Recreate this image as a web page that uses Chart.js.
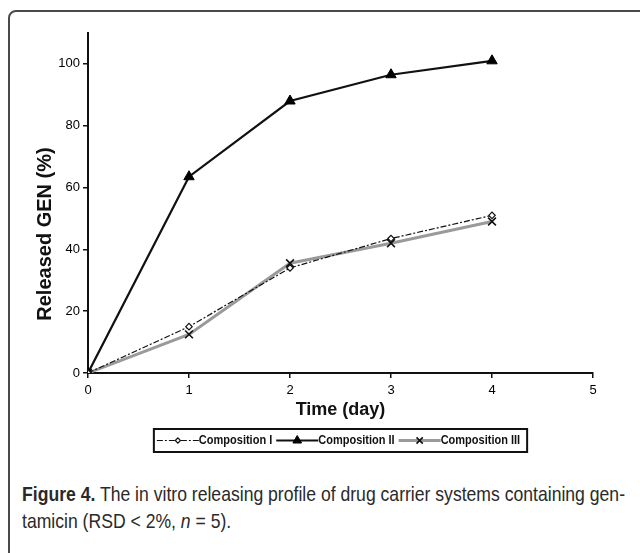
<!DOCTYPE html>
<html>
<head>
<meta charset="utf-8">
<script src="https://cdn.jsdelivr.net/npm/chart.js@4.4.0/dist/chart.umd.min.js"></script>
<style>
  html, body { margin: 0; padding: 0; background: #fff; }
  body { width: 640px; height: 553px; position: relative; overflow: hidden; }
  .frame {
    position: absolute; left: 8px; top: 10px; width: 700px; height: 600px;
    border: 2px solid #4a4a4a; border-radius: 8px; box-sizing: border-box;
  }
  #wrap { position: absolute; left: 0; top: 0; width: 640px; height: 470px; }
  .caption {
    position: absolute; left: 22px; top: 480px;
    font-family: "Liberation Sans", Arial, sans-serif;
    font-size: 21px; line-height: 27px; color: #2a2a2a; white-space: nowrap;
    transform-origin: 0 0;
  }
  .caption b { font-weight: bold; }
</style>
</head>
<body>
<div class="frame"></div>
<div id="wrap"><canvas id="chart"></canvas></div>
<div class="caption" id="cap"><span id="capLine"><b>Figure 4.</b> The in vitro releasing profile of drug carrier systems containing gen-</span><br>tamicin (RSD &lt; 2%, <i>n</i> = 5).</div>
<script>
// days sampled
const days = [0, 1, 2, 3, 4];
// released gentamicin, %
const compositionI = [0, 15, 34, 43.5, 51];
const compositionII = [0, 63.5, 88, 96.5, 101];
const compositionIII = [0, 12.5, 35.5, 42, 49];
const yTicks = [0, 20, 40, 60, 80, 100];
const xTicks = [0, 1, 2, 3, 4, 5];

// squeeze the caption to the condensed width of the original
const capLine = document.getElementById("capLine");
const capW = capLine.getBoundingClientRect().width;
document.getElementById("cap").style.transform = "scaleX(" + (603 / capW) + ")";

const pts = (ys) => days.map((d, i) => ({ x: d, y: ys[i] }));

const series = [
  { label: "Composition I", data: pts(compositionI), borderColor: "#111", borderWidth: 1.2,
    borderDash: [6, 2, 2, 2], pointStyle: "rectRot", pointRadius: 3.2,
    pointBackgroundColor: "#fff", pointBorderColor: "#111", pointBorderWidth: 1.2 },
  { label: "Composition II", data: pts(compositionII), borderColor: "#111", borderWidth: 2.2,
    borderDash: [], pointStyle: "triangle", pointRadius: 6,
    pointBackgroundColor: "#000", pointBorderColor: "#000", pointBorderWidth: 1 },
  { label: "Composition III", data: pts(compositionIII), borderColor: "#9a9a9a", borderWidth: 3,
    borderDash: [], pointStyle: "crossRot", pointRadius: 5.5,
    pointBackgroundColor: "#111", pointBorderColor: "#111", pointBorderWidth: 1.6 },
];

const squeeze = 0.86;

const boxLegend = {
  id: "boxLegend",
  afterDraw(chart) {
    const ctx = chart.ctx;
    const area = chart.chartArea;
    ctx.save();
    ctx.font = "bold 12.8px 'Liberation Sans', Arial, sans-serif";
    const lineLen = 42, gap = 4, padX = 3;
    const items = chart.data.datasets.map(ds => ({ ds, w: ctx.measureText(ds.label).width * squeeze }));
    let total = padX * 2;
    items.forEach(it => { total += lineLen + it.w + gap; });
    const cx = (area.left + area.right) / 2;
    const top = area.bottom + 56, h = 23;
    let x = cx - total / 2;
    ctx.lineWidth = 2;
    ctx.strokeStyle = "#111";
    ctx.strokeRect(x, top, total, h);
    const cy = top + h / 2;
    x += padX;
    items.forEach(({ ds, w }) => {
      ctx.save();
      ctx.strokeStyle = ds.borderColor;
      ctx.lineWidth = ds.borderWidth;
      ctx.setLineDash(ds.borderDash || []);
      ctx.beginPath();
      ctx.moveTo(x, cy);
      ctx.lineTo(x + lineLen, cy);
      ctx.stroke();
      ctx.setLineDash([]);
      ctx.fillStyle = ds.pointBackgroundColor;
      ctx.strokeStyle = ds.pointBorderColor;
      ctx.lineWidth = ds.pointBorderWidth;
      Chart.helpers.drawPoint(ctx, {
        pointStyle: ds.pointStyle, radius: ds.pointStyle === "triangle" ? 5 : ds.pointRadius * 0.8,
        rotation: 0, borderWidth: ds.pointBorderWidth
      }, x + lineLen / 2, cy);
      ctx.restore();
      ctx.save();
      ctx.fillStyle = "#111";
      ctx.textBaseline = "middle";
      ctx.textAlign = "left";
      ctx.translate(x + lineLen, cy);
      ctx.scale(squeeze, 1);
      ctx.fillText(ds.label, 0, 0);
      ctx.restore();
      x += lineLen + w + gap;
    });
    ctx.restore();
  }
};

// y title sits a little below the middle of the axis in the original
const yTitle = {
  id: "yTitle",
  afterDraw(chart) {
    const ctx = chart.ctx;
    const area = chart.chartArea;
    ctx.save();
    ctx.font = "bold 20px 'Liberation Sans', Arial, sans-serif";
    ctx.fillStyle = "#111";
    ctx.textAlign = "center";
    ctx.textBaseline = "middle";
    ctx.translate(area.left - 43, (area.top + area.bottom) / 2 + 31);
    ctx.rotate(-Math.PI / 2);
    ctx.fillText("Released GEN (%)", 0, 0);
    ctx.restore();
  }
};

const tickFont = { family: "'Liberation Sans', Arial, sans-serif", size: 13 };
const titleFont = { family: "'Liberation Sans', Arial, sans-serif", size: 18, weight: "bold" };

new Chart(document.getElementById("chart"), {
  type: "line",
  data: { datasets: series },
  plugins: [boxLegend, yTitle],
  options: {
    responsive: true,
    maintainAspectRatio: false,
    animation: false,
    layout: { padding: { top: 33, right: 47, bottom: 47, left: 0 } },
    plugins: { legend: { display: false }, tooltip: { enabled: false } },
    elements: { line: { tension: 0 } },
    scales: {
      x: {
        type: "linear", min: 0, max: 5,
        afterBuildTicks: s => { s.ticks = xTicks.map(v => ({ value: v })); },
        afterFit: s => { s.height = 50; },
        border: { color: "#111", width: 2 },
        grid: { display: true, drawOnChartArea: false, drawTicks: true, tickLength: 5, color: "#111", lineWidth: 1.5 },
        ticks: { color: "#000", font: tickFont, padding: 5, maxRotation: 0 },
        title: { display: true, text: "Time (day)", color: "#111", font: titleFont, padding: { top: 0, bottom: 2 } }
      },
      y: {
        type: "linear", min: 0, max: 110,
        afterBuildTicks: s => { s.ticks = yTicks.map(v => ({ value: v })); },
        afterFit: s => { s.width = 88; },
        border: { color: "#111", width: 2 },
        grid: { display: true, drawOnChartArea: false, drawTicks: true, tickLength: 5, color: "#111", lineWidth: 1.5 },
        ticks: { color: "#000", font: tickFont, padding: 3 },
        title: { display: false }
      }
    }
  }
});
</script>
</body>
</html>
